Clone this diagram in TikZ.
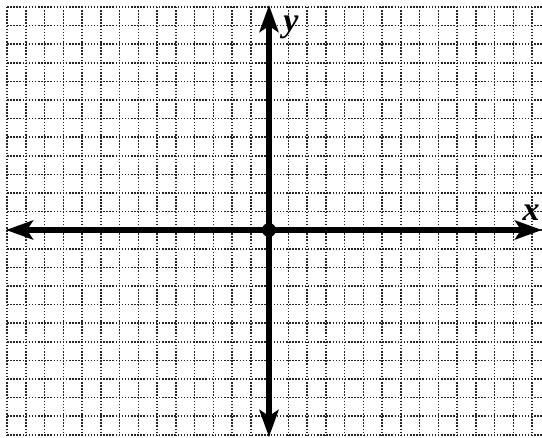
\documentclass[tikz,border=0pt]{standalone}
\usepackage{fontspec}
\setmainfont{Liberation Serif}
\usetikzlibrary{arrows.meta}
\tikzset{
  gridline/.style={black!85, line width=1.5pt, dash pattern=on 1.5pt off 1.6pt},
  axisline/.style={black, line width=6pt, -{Stealth[length=27pt,width=19pt,inset=6pt]}},
  axislabel/.style={font=\fontsize{34}{34}\selectfont\bfseries\itshape, inner sep=0pt}
}
\begin{document}
\begin{tikzpicture}[x=1pt,y=-1pt]
\useasboundingbox (0,0) rectangle (542,438);
\fill[white] (0,0) rectangle (542,438);
% grid
\foreach \i in {0,...,28} {
  \draw[gridline] ({7+18.75*\i},7) -- ({7+18.75*\i},436);
}
\foreach \j in {0,...,23} {
  \draw[gridline] (7,{7+18.6*\j}) -- (542,{7+18.6*\j});
}
% axes
\coordinate (O) at (269,230);
\coordinate (xl) at (6,230);
\coordinate (xr) at (542,230);
\coordinate (yt) at (269,5);
\coordinate (yb) at (269,437);
\draw[axisline] (O) -- (xl);
\draw[axisline] (O) -- (xr);
\draw[axisline] (O) -- (yt);
\draw[axisline] (O) -- (yb);
\fill (O) circle (7);
\node[axislabel] (ylab) at (291,27) {y};
\node[axislabel] (xlab) at (531,213) {x};
\end{tikzpicture}
\end{document}
